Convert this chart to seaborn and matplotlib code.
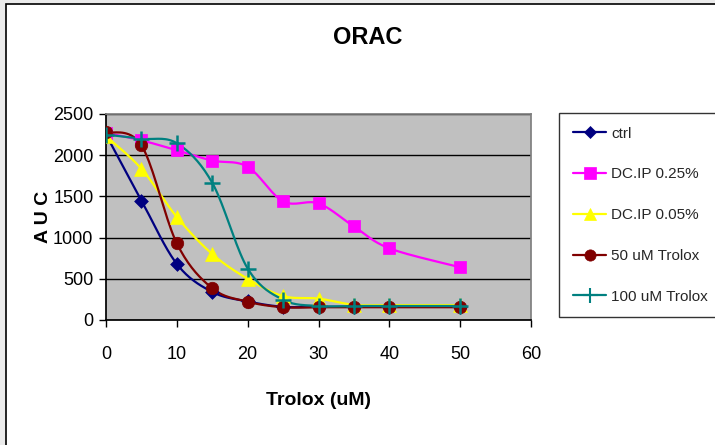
import numpy as np
import pandas as pd
import seaborn as sns
import matplotlib.pyplot as plt
from matplotlib.lines import Line2D
from matplotlib.patches import Rectangle

# ORAC readings per Trolox concentration
conc = [0, 5, 10, 15, 20, 25, 30, 35, 40, 50]
ctrl = [2250, 1450, 680, 340, 225, 160, 160, 160, 160, 160]
dcip_025 = [2270, 2180, 2060, 1935, 1860, 1440, 1415, 1135, 870, 640]
dcip_005 = [2230, 1835, 1250, 800, 500, 290, 260, 185, 180, 180]
trolox_50 = [2280, 2120, 930, 385, 222, 155, 155, 155, 155, 155]
trolox_100 = [2250, 2200, 2145, 1665, 625, 245, 170, 170, 170, 170]

labels = ["ctrl", "DC.IP 0.25%", "DC.IP 0.05%", "50 uM Trolox", "100 uM Trolox"]
series = [ctrl, dcip_025, dcip_005, trolox_50, trolox_100]
colors = ["#000080", "#FF00FF", "#FFFF00", "#800000", "#008080"]
markers = ["D", "s", "^", "o", "+"]
msizes = [7, 9, 10, 9, 12]


def smooth(x, y, n=20):
    # Catmull-Rom curve through the points (like Excel's smoothed line)
    x = np.asarray(x, float)
    y = np.asarray(y, float)
    px = np.concatenate([[x[0]], x, [x[-1]]])
    py = np.concatenate([[y[0]], y, [y[-1]]])
    xs, ys = [], []
    t = np.linspace(0, 1, n)
    for i in range(1, len(px) - 2):
        for p, out in ((px, xs), (py, ys)):
            p0, p1, p2, p3 = p[i - 1], p[i], p[i + 1], p[i + 2]
            c1 = p1 + (p2 - p0) / 6
            c2 = p2 - (p3 - p1) / 6
            out.extend((1 - t) ** 3 * p1 + 3 * (1 - t) ** 2 * t * c1
                       + 3 * (1 - t) * t ** 2 * c2 + t ** 3 * p2)
    return np.array(xs), np.array(ys)


sns.set_theme(style="white")
plt.rcParams['font.family'] = ['Liberation Sans', 'DejaVu Sans']

fig = plt.figure(figsize=(7.15, 4.45), dpi=100, facecolor="#EBEBEB")
fig.patches.append(Rectangle((6 / 715, -0.1), 1.1, 1 - 4 / 445 + 0.1,
                             transform=fig.transFigure, facecolor="white",
                             edgecolor="black", linewidth=1.2, zorder=-5))
ax = fig.add_axes([106 / 715, 1 - 320 / 445, 425 / 715, 206 / 445])
ax.set_zorder(2)
ax.set_facecolor("#C0C0C0")

df = pd.DataFrame({"conc": conc * len(series),
                   "auc": np.concatenate(series),
                   "group": np.repeat(labels, len(conc))})

for lab, col, mk, ms in zip(labels, colors, markers, msizes):
    sub = df[df["group"] == lab]
    sx, sy = smooth(sub["conc"], sub["auc"])
    ax.plot(sx, sy, color=col, linewidth=1.6, zorder=3)
    sns.scatterplot(data=sub, x="conc", y="auc", ax=ax, color=col, marker=mk,
                    s=ms ** 2, edgecolor=col, linewidth=1.8 if mk == "+" else 0.5,
                    zorder=4, legend=False)

ax.set_xlim(0, 60)
ax.set_ylim(0, 2500)
ax.set_xticks(range(0, 61, 10))
ax.set_yticks(range(0, 2501, 500))
ax.yaxis.grid(True, color="black", linewidth=1)
ax.set_axisbelow(True)
for side in ["left", "bottom"]:
    ax.spines[side].set_color("black")
for side in ["top", "right"]:
    ax.spines[side].set_color("#808080")
ax.tick_params(axis="both", direction="out", length=5, width=1, color="black",
               labelsize=13, pad=4, left=True, bottom=True, labelcolor="black")
ax.tick_params(axis="x", pad=13.5)
ax.set_xlabel("Trolox (uM)", fontsize=14, fontweight="bold", labelpad=21, color="black")
ax.set_ylabel("A U C", fontsize=14, fontweight="bold", labelpad=1, color="black")
fig.text(368 / 715, 1 - 37 / 445, "ORAC", fontsize=17, fontweight="bold",
         ha="center", va="center", color="black")

handles = [Line2D([], [], color=c, marker=m, markersize=s * 0.9,
                  markeredgecolor=c, markeredgewidth=1.5 if m == "+" else 0.5,
                  linewidth=1.6)
           for c, m, s in zip(colors, markers, msizes)]
leg = fig.legend(handles, labels, loc="upper left",
                 bbox_to_anchor=(559 / 715, 1 - 113 / 445), fontsize=11,
                 frameon=True, fancybox=False, edgecolor="black",
                 handlelength=2.2, handletextpad=0.3, labelspacing=1.75,
                 borderpad=0.9, borderaxespad=0)
leg.get_frame().set_linewidth(1)

fig.savefig("out.png", dpi=100, facecolor=fig.get_facecolor())
